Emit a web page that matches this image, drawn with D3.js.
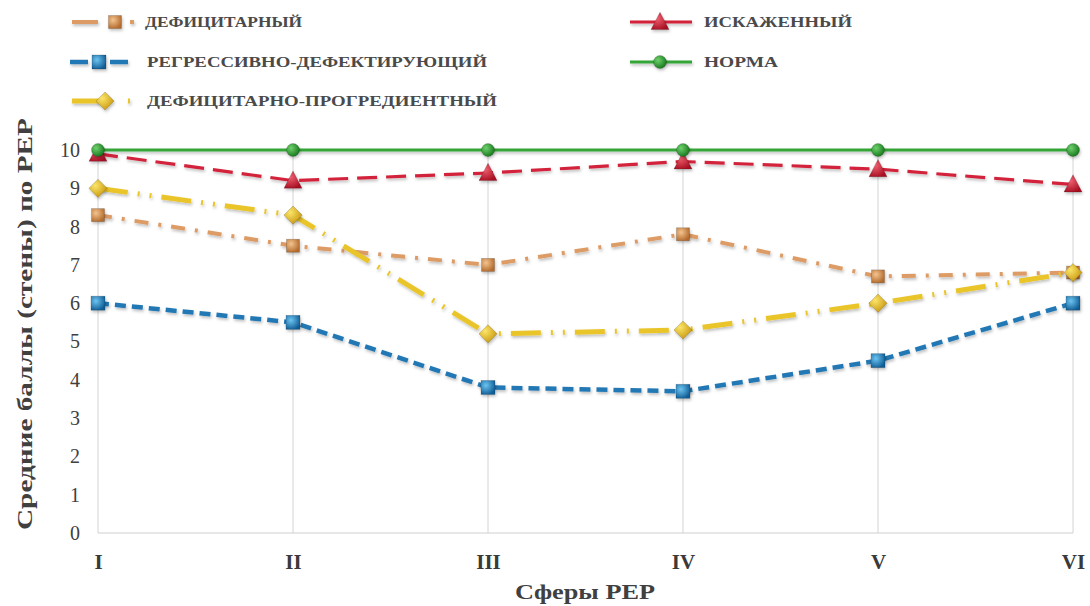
<!DOCTYPE html>
<html>
<head>
<meta charset="utf-8">
<script src="https://cdn.jsdelivr.net/npm/d3@7"></script>
<style>
  body { margin: 0; background: #fff; }
  svg text { font-family: "Liberation Serif", "DejaVu Serif", serif; }
</style>
</head>
<body>
<div id="chart"></div>
<script>
// Data
const categories = ["I", "II", "III", "IV", "V", "VI"];
const deficitar = [8.3, 7.5, 7.0, 7.8, 6.7, 6.8];
const regressive = [6.0, 5.5, 3.8, 3.7, 4.5, 6.0];
const progredient = [9.0, 8.3, 5.2, 5.3, 6.0, 6.8];
const distorted = [9.9, 9.2, 9.4, 9.7, 9.5, 9.1];
const norm = [10, 10, 10, 10, 10, 10];
const yTicks = [0, 1, 2, 3, 4, 5, 6, 7, 8, 9, 10];

// series styling
const series = [
  { name: "ДЕФИЦИТАРНЫЙ", values: deficitar, color: "#dd9c66", dash: "14,10,3,10", width: 4, marker: "square", fill: "url(#gOrange)", msize: 13 },
  { name: "РЕГРЕССИВНО-ДЕФЕКТИРУЮЩИЙ", values: regressive, color: "#2478b4", dash: "11,6", width: 4.5, marker: "square", fill: "url(#gBlue)", msize: 14 },
  { name: "ДЕФИЦИТАРНО-ПРОГРЕДИЕНТНЫЙ", values: progredient, color: "#eac52c", dash: "30,10,2,10,2,10", width: 5, marker: "diamond", fill: "url(#gYellow)", msize: 13 },
  { name: "ИСКАЖЕННЫЙ", values: distorted, color: "#d3243a", dash: "20,9", width: 3.2, marker: "triangle", fill: "url(#gRed)", msize: 15 },
  { name: "НОРМА", values: norm, color: "#35a537", dash: null, width: 3.2, marker: "circle", fill: "url(#gGreen)", msize: 13 }
];

const W = 1090, H = 606;
const svg = d3.select("#chart").append("svg").attr("width", W).attr("height", H);

// gradients for the glossy markers
const defs = svg.append("defs");
function grad(id, light, dark) {
  const g = defs.append("radialGradient").attr("id", id).attr("cx", "35%").attr("cy", "35%").attr("r", "70%");
  g.append("stop").attr("offset", "0%").attr("stop-color", light);
  g.append("stop").attr("offset", "100%").attr("stop-color", dark);
}
grad("gOrange", "#f3c48f", "#b36a2c");
grad("gBlue", "#6cc4f0", "#105d96");
grad("gYellow", "#fbe56a", "#c9980e");
grad("gRed", "#f06070", "#a80f22");
grad("gGreen", "#6fd16c", "#16781c");

// soft shadow; user space units so flat lines keep a region
const shadow = defs.append("filter").attr("id", "shadow")
  .attr("filterUnits", "userSpaceOnUse")
  .attr("x", -200).attr("y", -200).attr("width", 1500).attr("height", 1000);
shadow.append("feDropShadow").attr("dx", 1).attr("dy", 2).attr("stdDeviation", 1.5).attr("flood-color", "#000").attr("flood-opacity", 0.25);

const x = d3.scalePoint().domain(categories).range([98, 1073]);
const y = d3.scaleLinear().domain([0, 10]).range([533, 150]);

// vertical gridlines
svg.append("g").selectAll("line").data(categories).enter().append("line")
  .attr("x1", d => x(d)).attr("x2", d => x(d))
  .attr("y1", y(10)).attr("y2", y(0))
  .attr("stroke", "#d4d4d4").attr("stroke-width", 1);

// horizontal axis line
svg.append("line")
  .attr("x1", x("I")).attr("x2", x("VI"))
  .attr("y1", y(0)).attr("y2", y(0))
  .attr("stroke", "#cfcfcf").attr("stroke-width", 1.2);

// y tick labels
const yAxis = d3.axisLeft(y).tickValues(yTicks).tickSize(0).tickPadding(0);
const yg = svg.append("g").attr("transform", "translate(80,0)").call(yAxis);
yg.select(".domain").remove();
yg.selectAll("text")
  .style("font-family", "'Liberation Serif', serif")
  .style("font-size", "20px")
  .style("fill", "#404040");

// x tick labels
const xAxis = d3.axisBottom(x).tickSize(0).tickPadding(0);
const xg = svg.append("g").attr("transform", "translate(0,554)").call(xAxis);
xg.select(".domain").remove();
xg.selectAll("text")
  .style("font-family", "'Liberation Serif', serif")
  .style("font-size", "21px")
  .style("font-weight", "bold")
  .style("fill", "#3a3a3a");

// axis titles
svg.append("text")
  .attr("x", 515).attr("y", 599)
  .attr("textLength", 140).attr("lengthAdjust", "spacingAndGlyphs")
  .style("font-size", "20px").style("font-weight", "bold").style("fill", "#404040")
  .text("Сферы РЕР");

svg.append("text")
  .attr("transform", "translate(32,530) rotate(-90)")
  .attr("textLength", 412).attr("lengthAdjust", "spacingAndGlyphs")
  .style("font-size", "21px").style("font-weight", "bold").style("fill", "#404040")
  .text("Средние баллы (стены) по  РЕР");

// marker drawing
function drawMarker(g, type, fill, s) {
  if (type === "square") {
    g.append("rect").attr("x", -s / 2).attr("y", -s / 2).attr("width", s).attr("height", s)
      .attr("fill", fill).attr("stroke", "rgba(0,0,0,0.2)").attr("stroke-width", 0.8);
  } else if (type === "diamond") {
    g.append("path").attr("d", `M0,${-s * 0.7}L${s * 0.7},0L0,${s * 0.7}L${-s * 0.7},0Z`)
      .attr("fill", fill).attr("stroke", "rgba(0,0,0,0.2)").attr("stroke-width", 0.8);
  } else if (type === "triangle") {
    g.append("path").attr("d", `M0,${-s * 0.65}L${s * 0.6},${s * 0.5}L${-s * 0.6},${s * 0.5}Z`)
      .attr("fill", fill).attr("stroke", "rgba(0,0,0,0.2)").attr("stroke-width", 0.8);
  } else {
    g.append("circle").attr("r", s / 2).attr("fill", fill)
      .attr("stroke", "rgba(0,0,0,0.2)").attr("stroke-width", 0.8);
  }
}

const line = d3.line().x((d, i) => x(categories[i])).y(d => y(d));

series.forEach(s => {
  svg.append("path")
    .datum(s.values)
    .attr("d", line)
    .attr("fill", "none")
    .attr("stroke", s.color)
    .attr("stroke-width", s.width)
    .attr("stroke-dasharray", s.dash)
    .attr("filter", "url(#shadow)");
  s.values.forEach((v, i) => {
    const g = svg.append("g").attr("transform", `translate(${x(categories[i])},${y(v)})`)
      .attr("filter", "url(#shadow)");
    drawMarker(g, s.marker, s.fill, s.msize);
  });
});

// legend: line pieces, marker centre, text position and width
const legendPos = [
  { ly: 22, segs: [[72, 98], [130, 134]], mx: 115, tx: 145, tw: 157 },
  { ly: 62, segs: [[70, 88], [110, 128]], mx: 99, tx: 147, tw: 340 },
  { ly: 101, segs: [[72, 100], [128, 130]], mx: 105, tx: 147, tw: 350 },
  { ly: 22, segs: [[630, 692]], mx: 660, tx: 704, tw: 148 },
  { ly: 62, segs: [[630, 692]], mx: 660, tx: 704, tw: 74 }
];
series.forEach((s, i) => {
  const p = legendPos[i];
  const g = svg.append("g");
  p.segs.forEach(sg => {
    g.append("line")
      .attr("x1", sg[0]).attr("x2", sg[1])
      .attr("y1", p.ly).attr("y2", p.ly)
      .attr("stroke", s.color).attr("stroke-width", s.width)
      .attr("filter", "url(#shadow)");
  });
  const m = g.append("g").attr("transform", `translate(${p.mx},${p.ly})`).attr("filter", "url(#shadow)");
  drawMarker(m, s.marker, s.fill, s.msize);
  g.append("text")
    .attr("x", p.tx).attr("y", p.ly + 5)
    .attr("textLength", p.tw).attr("lengthAdjust", "spacingAndGlyphs")
    .style("font-size", "15px").style("font-weight", "bold").style("fill", "#4a4a4a")
    .text(s.name);
});
</script>
</body>
</html>
